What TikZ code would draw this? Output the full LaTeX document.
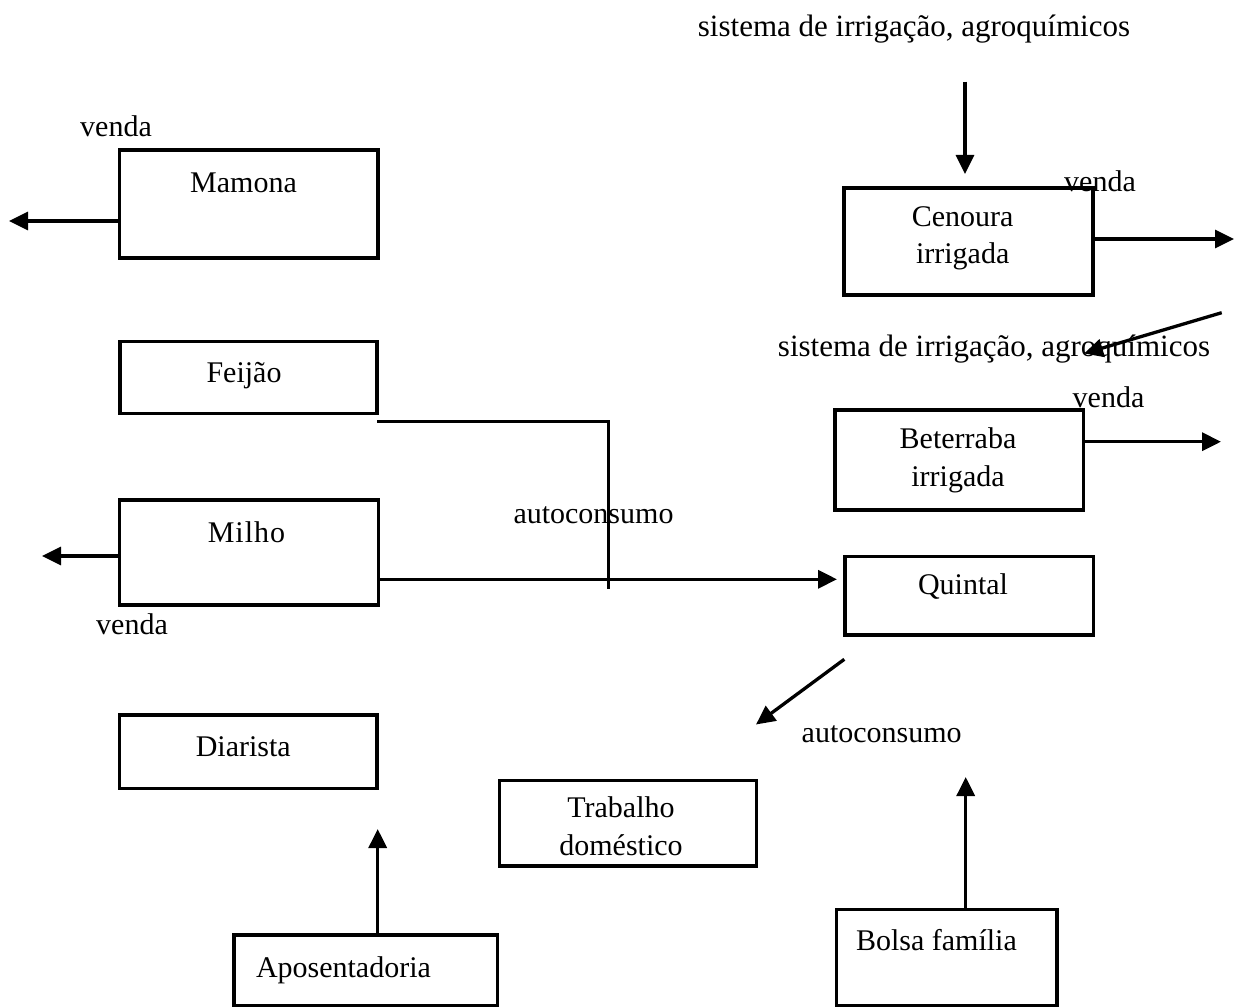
\documentclass[tikz,border=0pt]{standalone}
\usepackage{fontspec}
\setmainfont{Liberation Serif}
\usetikzlibrary{arrows.meta}
\begin{document}
\begin{tikzpicture}[x=1pt,y=-1pt,
  box/.style={draw,line width=3.3pt,rectangle,inner sep=0pt,outer sep=0pt},
  lbl/.style={inner sep=0pt,outer sep=0pt,anchor=base,font=\fontsize{30}{37.5}\selectfont,align=center},
  lblw/.style={lbl,anchor=base west},
  big/.style={lbl,font=\fontsize{31}{37}\selectfont},
  conn/.style={line width=3.3pt},
  arr/.style={line width=3.3pt,-{Triangle[length=19pt,width=18pt]}}]
\useasboundingbox (0,0) rectangle (1234,1008);
% boxes
\node[box,minimum width=258.5pt,minimum height=108pt] (mamona) at (248.75,204) {};
\node[box,minimum width=257pt,minimum height=72pt] (feijao) at (248.5,377.5) {};
\node[box,minimum width=259pt,minimum height=105pt] (milho) at (249,552.5) {};
\node[box,minimum width=257.5pt,minimum height=73.5pt] (diarista) at (248.25,751.75) {};
\node[box,minimum width=257.4pt,minimum height=85.3pt] (trabalho) at (628,823.35) {};
\node[box,minimum width=263.7pt,minimum height=70.5pt] (apos) at (365.85,970.25) {};
\node[box,minimum width=220.3pt,minimum height=96.2pt] (bolsa) at (946.85,957.4) {};
\node[box,minimum width=248.3pt,minimum height=78.3pt] (quintal) at (969.15,595.85) {};
\node[box,minimum width=249pt,minimum height=107pt] (cenoura) at (968.5,241.5) {};
\node[box,minimum width=248.3pt,minimum height=100pt] (beterraba) at (959.15,460) {};
% box texts
\node[lbl] (tMamona) at (243.5,193) {Mamona};
\node[lbl] (tFeijao) at (244,382.5) {Feijão};
\node[lbl] (tMilho) at (246.5,542) {M\kern1pt i\kern1pt l\kern1pt h\kern1pt o};
\node[lbl] (tDiarista) at (243.3,756) {Diarista};
\node[lbl] (tTrabalho) at (621,855) {Trabalho\\doméstico};
\node[lblw] (tApos) at (256,977.5) {Aposentadoria};
\node[lblw] (tBolsa) at (856,950) {Bolsa família};
\node[lbl] (tQuintal) at (963,594) {Quintal};
\node[lbl] (tCenoura) at (962.7,264) {Cenoura\\irrigada};
\node[lbl] (tBeterraba) at (958,486) {Beterraba\\irrigada};
% free labels
\node[lbl] (vMamona) at (116,137) {venda};
\node[lbl] (vMilho) at (132,634) {venda};
\node[lbl] (vCenoura) at (1100,192) {venda};
\node[lbl] (vBeterraba) at (1108.5,407.5) {venda};
\node[lbl] (aCentro) at (593.5,523.5) {autoconsumo};
\node[lbl] (aQuintal) at (881.7,742.5) {autoconsumo};
\node[big] (sTop) at (914,37) {sistema de irrigação, agroquímicos};
\node[big] (sMid) at (994,356) {sistema de irrigação, agroquímicos};
% coordinates
\coordinate (mamonaEnd) at (9,221);
\coordinate (milhoEnd) at (42,556);
\coordinate (fjA) at (377,421.7);
\coordinate (fjB) at (608.3,421.7);
\coordinate (fjC) at (608.3,589);
\coordinate (milhoTip) at (837,579.3);
\coordinate (cenTop) at (965,81.7);
\coordinate (cenTip) at (965,174);
\coordinate (cenEnd) at (1234,239);
\coordinate (diagA) at (1221.7,312.7);
\coordinate (diagB) at (1084,353.5);
\coordinate (betEnd) at (1221,441.7);
\coordinate (quiA) at (844.3,659.3);
\coordinate (quiB) at (756,724.5);
\coordinate (aposTip) at (377.7,829);
\coordinate (bolsaTip) at (965.7,777);
% connectors
\draw[arr] (mamona.west |- mamonaEnd) -- (mamonaEnd);
\draw[arr] (milho.west |- milhoEnd) -- (milhoEnd);
\draw[conn] (fjA) -- (fjB) -- (fjC);
\draw[arr] (milho.east |- milhoTip) -- (milhoTip);
\draw[arr] (cenTop) -- (cenTip);
\draw[arr] (cenoura.east |- cenEnd) -- (cenEnd);
\draw[arr] (diagA) -- (diagB);
\draw[arr] (beterraba.east |- betEnd) -- (betEnd);
\draw[arr] (quiA) -- (quiB);
\draw[arr] (apos.north -| aposTip) -- (aposTip);
\draw[arr] (bolsa.north -| bolsaTip) -- (bolsaTip);
\end{tikzpicture}
\end{document}
